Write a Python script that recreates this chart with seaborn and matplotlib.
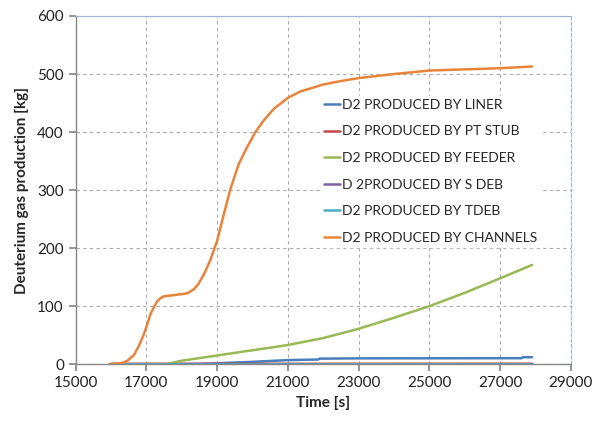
import numpy as np
import pandas as pd
import matplotlib
matplotlib.use("Agg")
import matplotlib.pyplot as plt
import seaborn as sns

# ---- data ----
series_names = ["D2 PRODUCED BY LINER", "D2 PRODUCED BY PT STUB", "D2 PRODUCED BY FEEDER",
                "D 2PRODUCED BY S DEB", "D2 PRODUCED BY TDEB", "D2 PRODUCED BY CHANNELS"]
colors = ["#4A7EBB", "#BE4B48", "#98B954", "#7D60A0", "#4BACC6", "#E8833A"]

liner_t = [16000, 17500, 18500, 19000, 20000, 21000, 21850, 21900, 23000, 27600, 27650, 27900]
liner_v = [0, 0, 0.5, 1.5, 4, 7, 8, 9.5, 10, 10.3, 12, 12]

stub_t = [16000, 27900]
stub_v = [0.5, 0.8]

feeder_t = [16000, 17550, 18000, 19000, 20000, 21000, 22000, 23000, 24000, 25000, 26000, 27000, 27900]
feeder_v = [0, 0, 6, 15, 24, 33, 45, 61, 80, 100, 123, 148, 171]

sdeb_t = [16000, 27900]
sdeb_v = [0, 0]

tdeb_t = [16000, 27900]
tdeb_v = [0, 0]

chan_t = [15950, 16280, 16465, 16650, 16790, 16930, 17025, 17120, 17210, 17300, 17400, 17500,
          17780, 18150, 18340, 18480, 18650, 18810, 19000, 19190, 19375, 19610, 19845, 20080,
          20315, 20600, 21000, 21350, 21630, 22000, 22500, 23000, 24000, 25000, 26000, 27000, 27900]
chan_v = [0, 1.5, 6, 16, 32, 52, 69, 87, 98, 108, 114, 117,
          119, 122, 129, 139, 158, 180, 213, 259, 302, 345, 374, 400,
          420, 440, 459, 470, 475, 482, 488, 493, 500, 506, 508, 510, 513]

all_t = [liner_t, stub_t, feeder_t, sdeb_t, tdeb_t, chan_t]
all_v = [liner_v, stub_v, feeder_v, sdeb_v, tdeb_v, chan_v]

rows = []
for name, ts, vs in zip(series_names, all_t, all_v):
    for t, v in zip(ts, vs):
        rows.append((name, t, v))
df = pd.DataFrame(rows, columns=["series", "time", "value"])

sns.set_theme(style="white")
plt.rcParams["font.family"] = ["Lato", "DejaVu Sans"]

fig = plt.figure(figsize=(5.96, 4.21), dpi=100)
ax = fig.add_axes([0.127, 0.135, 0.831, 0.827])

sns.lineplot(data=df, x="time", y="value", hue="series", hue_order=series_names,
             palette=dict(zip(series_names, colors)), estimator=None, linewidth=1.8, ax=ax)
for ln in ax.get_lines():
    ln.set_solid_joinstyle("round")
    ln.set_solid_capstyle("round")

ax.set_xlim(15000, 29000)
ax.set_ylim(0, 600)
ax.set_xticks(np.arange(15000, 29001, 2000))
ax.set_yticks(np.arange(0, 601, 100))
ax.grid(True, color="#AAAAAA", linestyle=(0, (3, 3)), linewidth=0.8)
ax.tick_params(axis="both", labelsize=11, colors="#222222", length=5, direction="out",
               bottom=True, left=True, color="#888888")
for s in ["left", "bottom"]:
    ax.spines[s].set_color("#888888")
    ax.spines[s].set_linewidth(1)
ax.spines["top"].set_color("#9DB5D6")
ax.spines["top"].set_linewidth(0.8)
ax.spines["right"].set_color("#9DB5D6")
ax.spines["right"].set_linewidth(0.8)
ax.spines["right"].set_linestyle((0, (3, 2)))

ax.set_xlabel("Time [s]", fontsize=11, fontweight="bold", labelpad=4)
ax.set_ylabel("Deuterium gas production [kg]", fontsize=11, fontweight="bold", labelpad=6)

leg = ax.legend(loc="upper left", bbox_to_anchor=(0.495, 0.77), frameon=True, fontsize=10,
                handlelength=1.2, handletextpad=0.15, labelspacing=1.05, borderpad=0.2,
                borderaxespad=0)
leg.get_frame().set_facecolor("white")
leg.get_frame().set_edgecolor("white")
leg.get_frame().set_alpha(1)
for line in leg.get_lines():
    line.set_linewidth(1.8)

fig.savefig("out.png", dpi=100)
